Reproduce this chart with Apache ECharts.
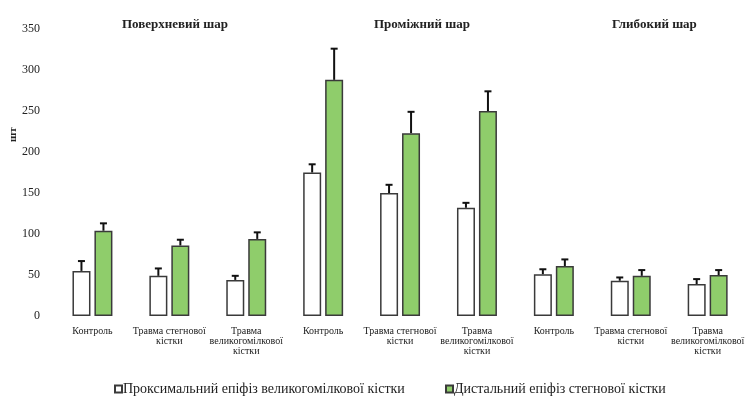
<!DOCTYPE html>
<html>
<head>
<meta charset="utf-8">
<script src="https://cdn.jsdelivr.net/npm/echarts@6/dist/echarts.min.js"></script>
<style>
  html, body { margin: 0; padding: 0; background: #fff; }
  #chart { width: 747px; height: 396px; }
</style>
</head>
<body>
<div id="chart"></div>
<script>
// Categories: three layers x three groups
const categories = [
  'Контроль', 'Травма стегнової\nкістки', 'Травма\nвеликогомілкової\nкістки',
  'Контроль', 'Травма стегнової\nкістки', 'Травма\nвеликогомілкової\nкістки',
  'Контроль', 'Травма стегнової\nкістки', 'Травма\nвеликогомілкової\nкістки'
];
const layerTitles = ['Поверхневий шар', 'Проміжний шар', 'Глибокий шар'];
const seriesNames = ['Проксимальний епіфіз великогомілкової кістки', 'Дистальний епіфіз стегнової кістки'];

// Mean values
const proximal = [55, 49, 44, 175, 150, 132, 51, 43, 39];
const distal   = [104, 86, 94, 288, 223, 250, 61, 49, 50];
// Error (upper whisker length)
const proximalErr = [12, 9, 5, 10, 10, 6, 6, 4, 6];
const distalErr   = [9, 7, 8, 38, 26, 24, 8, 7, 6];

const yTicks = { min: 0, max: 350, interval: 50 };

const serif = 'Liberation Serif';
const barBorder = '#3a3a3a';
const green = '#8fcd6b';

const BAR_W = 18;
const BAR_OFFSET = 11;

function errorRenderer(offset) {
  return function (params, api) {
    const xi = api.value(0);
    const base = api.value(1);
    const top = base + api.value(2);
    const p0 = api.coord([xi, base]);
    const p1 = api.coord([xi, top]);
    const x = p0[0] + offset;
    const style = { stroke: '#111', lineWidth: 2 };
    return {
      type: 'group',
      children: [
        { type: 'line', shape: { x1: x, y1: p0[1], x2: x, y2: p1[1] }, style: style },
        { type: 'line', shape: { x1: x - 3.5, y1: p1[1], x2: x + 3.5, y2: p1[1] }, style: style }
      ]
    };
  };
}

const chart = echarts.init(document.getElementById('chart'), null, { renderer: 'canvas' });

const legendText = { fontFamily: serif, fontSize: 14, color: '#222', padding: [0, 0, 0, -4] };

const option = {
  backgroundColor: '#ffffff',
  animation: false,
  textStyle: { fontFamily: serif, color: '#222' },
  grid: { left: 54, right: -5, top: 29, bottom: 80, containLabel: false },
  xAxis: {
    type: 'category',
    data: categories,
    axisLine: { show: false },
    axisTick: { show: false },
    axisLabel: {
      interval: 0,
      margin: 10,
      fontFamily: serif,
      fontSize: 10,
      lineHeight: 10,
      color: '#222'
    }
  },
  yAxis: {
    type: 'value',
    min: yTicks.min,
    max: yTicks.max,
    interval: yTicks.interval,
    axisLine: { show: false },
    axisTick: { show: false },
    splitLine: { show: false },
    axisLabel: { margin: 14, fontFamily: serif, fontSize: 12, color: '#222' }
  },
  legend: [
    {
      data: [{ name: seriesNames[0], icon: 'rect' }],
      left: 109, top: 377,
      itemWidth: 7, itemHeight: 7, itemGap: 0,
      textStyle: legendText
    },
    {
      data: [{ name: seriesNames[1], icon: 'rect' }],
      left: 440, top: 377,
      itemWidth: 7, itemHeight: 7, itemGap: 0,
      textStyle: legendText
    }
  ],
  graphic: [
    { type: 'text', left: 122, top: 18, style: { text: layerTitles[0], font: 'bold 13px ' + serif, fill: '#222' } },
    { type: 'text', left: 374, top: 18, style: { text: layerTitles[1], font: 'bold 13px ' + serif, fill: '#222' } },
    { type: 'text', left: 612, top: 18, style: { text: layerTitles[2], font: 'bold 13px ' + serif, fill: '#222' } },
    { type: 'text', x: 8, y: 142, rotation: Math.PI / 2, style: { text: 'шт', font: 'bold 11px ' + serif, fill: '#222' } }
  ],
  series: [
    {
      name: seriesNames[0],
      type: 'bar',
      data: proximal,
      barWidth: BAR_W,
      barGap: '22%',
      itemStyle: { color: '#ffffff', borderColor: barBorder, borderWidth: 1.5 }
    },
    {
      name: seriesNames[1],
      type: 'bar',
      data: distal,
      barWidth: BAR_W,
      barGap: '22%',
      itemStyle: { color: green, borderColor: barBorder, borderWidth: 1.5 }
    },
    {
      type: 'custom',
      renderItem: errorRenderer(-BAR_OFFSET),
      data: proximal.map((v, i) => [i, v, proximalErr[i]]),
      encode: { x: 0, y: 1 },
      z: 5
    },
    {
      type: 'custom',
      renderItem: errorRenderer(BAR_OFFSET),
      data: distal.map((v, i) => [i, v, distalErr[i]]),
      encode: { x: 0, y: 1 },
      z: 5
    }
  ]
};

chart.setOption(option);
</script>
</body>
</html>
